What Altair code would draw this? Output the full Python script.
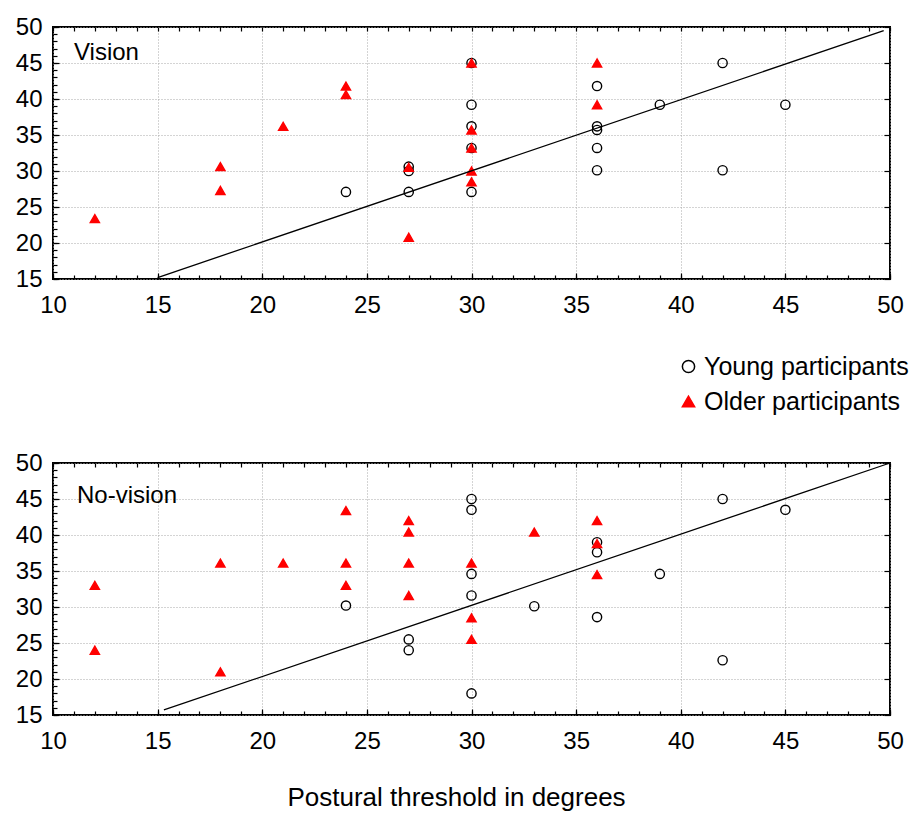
import altair as alt
import pandas as pd

FONT = "Liberation Sans"
GROUPS = ["Young participants", "Older participants"]

# ---- Vision panel ----
vision_young_x = [24, 27, 27, 27, 30, 30, 30, 30, 30, 36, 36, 36, 36, 36, 39, 42, 42, 45]
vision_young_y = [27.1, 30.0, 30.6, 27.1, 45.0, 39.2, 36.2, 33.2, 27.1, 41.8, 36.2, 35.7, 33.2, 30.1, 39.2, 45.0, 30.1, 39.2]
vision_older_x = [12, 18, 18, 21, 24, 24, 27, 27, 30, 30, 30, 30, 30, 36, 36]
vision_older_y = [23.4, 30.6, 27.3, 36.2, 41.8, 40.6, 30.5, 20.8, 45.0, 35.7, 33.2, 30.0, 28.5, 45.0, 39.2]
vision_line_x = [15.0, 49.7]
vision_line_y = [15.2, 49.5]

# ---- No-vision panel ----
novision_young_x = [24, 27, 27, 30, 30, 30, 30, 30, 33, 36, 36, 36, 39, 42, 42, 45]
novision_young_y = [30.2, 25.5, 24.0, 45.0, 43.5, 34.6, 31.6, 18.0, 30.1, 39.0, 37.6, 28.6, 34.6, 45.0, 22.6, 43.5]
novision_older_x = [12, 12, 18, 18, 21, 24, 24, 24, 27, 27, 27, 27, 30, 30, 30, 33, 36, 36, 36]
novision_older_y = [33.0, 24.0, 36.1, 21.0, 36.1, 43.4, 36.1, 33.0, 42.0, 40.4, 36.1, 31.6, 36.1, 28.5, 25.5, 40.4, 42.0, 38.8, 34.5]
novision_line_x = [15.3, 50.0]
novision_line_y = [15.7, 50.0]

x_major = [10, 15, 20, 25, 30, 35, 40, 45, 50]
y_major = [15, 20, 25, 30, 35, 40, 45, 50]
x_minor = list(range(10, 51))
y_minor = list(range(15, 51))

X_TITLE = "Postural threshold in degrees"

xs = alt.Scale(domain=[10, 50], nice=False, zero=False)
ys = alt.Scale(domain=[15, 50], nice=False, zero=False)
shape_scale = alt.Scale(domain=GROUPS, range=["circle", "triangle-up"])
fill_scale = alt.Scale(domain=GROUPS, range=["transparent", "#ff0000"])
stroke_scale = alt.Scale(domain=GROUPS, range=["#000000", "#ff0000"])

W, H = 837, 252


def minor_axis(orient, values, size):
    return alt.Axis(orient=orient, values=values, labels=False, grid=False, domain=False,
                    tickSize=size, offset=-size, tickColor="black", tickWidth=1.2, title=None)


def panel(label, title_offset, title_dx, yx, yy, ox, oy, lx, ly, show_legend, show_xtitle):
    young = pd.DataFrame({"x": yx, "y": yy, "group": [GROUPS[0]] * len(yx)})
    older = pd.DataFrame({"x": ox, "y": oy, "group": [GROUPS[1]] * len(ox)})
    line = pd.DataFrame({"x": lx, "y": ly})

    if show_legend:
        leg = alt.Legend(title=None, orient="none", legendX=623, legendY=327,
                         labelFont=FONT, labelFontSize=25, labelColor="black", labelLimit=400,
                         symbolSize=150, symbolStrokeWidth=1.5, rowPadding=9,
                         labelOffset=3, direction="vertical")
    else:
        leg = None

    def style_enc(legend):
        if legend is None:
            return dict(shape=alt.Shape("group:N", scale=shape_scale, legend=None),
                        fill=alt.Fill("group:N", scale=fill_scale, legend=None),
                        stroke=alt.Stroke("group:N", scale=stroke_scale, legend=None))
        return dict(shape=alt.Shape("group:N", scale=shape_scale, legend=legend),
                    fill=alt.Fill("group:N", scale=fill_scale, legend=legend),
                    stroke=alt.Stroke("group:N", scale=stroke_scale, legend=legend))

    if show_xtitle:
        xtitle_kw = dict(title=X_TITLE, titleFont=FONT, titleFontSize=26, titleFontWeight="normal",
                         titleColor="black", titleX=403, titleY=96, titleAlign="center",
                         titleBaseline="alphabetic")
    else:
        xtitle_kw = dict(title=None)

    x_axis_major = alt.Axis(orient="bottom", values=x_major, grid=True, gridColor="#a8a8a8",
                            gridDash=[1, 2], gridWidth=1, domain=False, tickSize=6, offset=-6,
                            tickColor="black", tickWidth=1.2, labelPadding=14, labelFont=FONT,
                            labelFontSize=24, labelColor="black", labelFlush=False,
                            labelOverlap=False, **xtitle_kw)
    y_axis_major = alt.Axis(orient="left", values=y_major, grid=True, gridColor="#a8a8a8",
                            gridDash=[1, 2], gridWidth=1, domain=False, tickSize=6, offset=-6,
                            tickColor="black", tickWidth=1.2, labelPadding=11, labelFont=FONT,
                            labelFontSize=24, labelColor="black", labelFlush=False,
                            labelOverlap=False, title=None)

    pts_young = alt.Chart(young).mark_point(size=85, strokeWidth=1.4, opacity=1).encode(
        x=alt.X("x:Q", scale=xs, axis=x_axis_major),
        y=alt.Y("y:Q", scale=ys, axis=y_axis_major),
        **style_enc(leg),
    )
    pts_older = alt.Chart(older).mark_point(size=85, strokeWidth=1.4, opacity=1).encode(
        x=alt.X("x:Q", scale=xs, axis=minor_axis("bottom", x_minor, 4)),
        y=alt.Y("y:Q", scale=ys, axis=minor_axis("left", y_minor, 4)),
        **style_enc(leg),
    )
    fit = alt.Chart(line).mark_line(color="black", strokeWidth=1.3).encode(
        x=alt.X("x:Q", scale=xs, axis=minor_axis("top", x_minor, 4)),
        y=alt.Y("y:Q", scale=ys, axis=minor_axis("right", y_major, 6)),
    )
    return alt.layer(pts_young, pts_older, fit).resolve_axis(
        x="independent", y="independent"
    ).properties(
        width=W, height=H,
        title=alt.TitleParams(label, anchor="start", orient="top", frame="group",
                              offset=title_offset, dx=title_dx, baseline="alphabetic",
                              font=FONT, fontSize=24, fontWeight="normal", color="black"),
    )


top = panel("Vision", -69, 21, vision_young_x, vision_young_y, vision_older_x, vision_older_y,
            vision_line_x, vision_line_y, True, False)
bottom = panel("No-vision", -76, 24, novision_young_x, novision_young_y, novision_older_x,
               novision_older_y, novision_line_x, novision_line_y, False, True)

chart = alt.vconcat(top, bottom, spacing=184, bounds="flush").configure_view(
    stroke="black", strokeWidth=2
).properties(
    padding={"left": 14, "top": 14, "right": 0, "bottom": 5}
)

chart.save("out.html", embed_options={"renderer": "svg", "actions": False})
